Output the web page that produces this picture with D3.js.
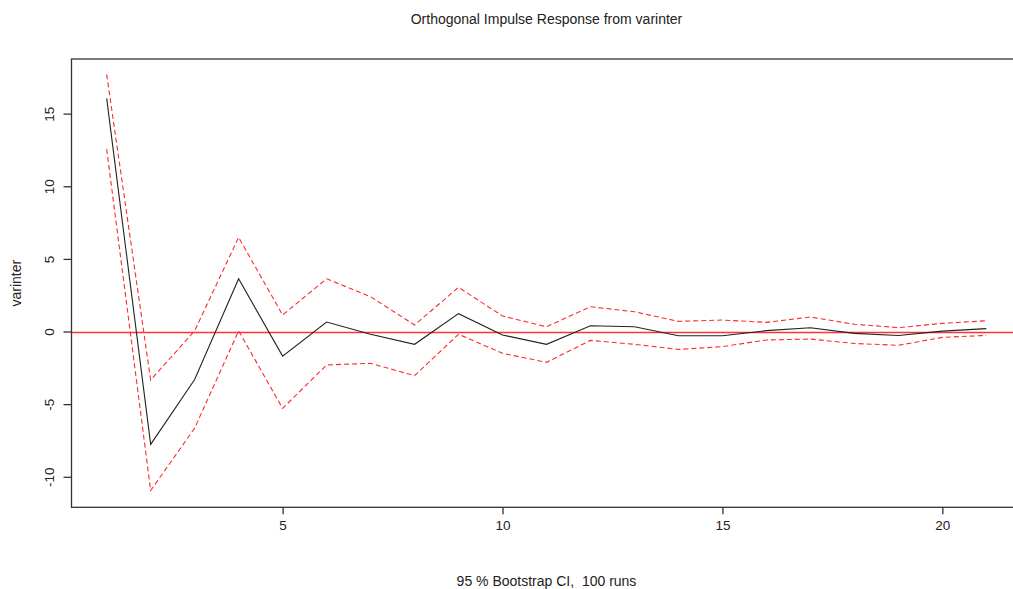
<!DOCTYPE html>
<html>
<head>
<meta charset="utf-8">
<script src="https://cdn.jsdelivr.net/npm/d3@7"></script>
<style>
  body { margin: 0; background: #fff; }
  text { font-family: Arial, "Liberation Sans", sans-serif; fill: #222; white-space: pre; }
</style>
</head>
<body>
<svg id="chart" width="1013" height="589"></svg>
<script>
const WIDTH = 1013;
const HEIGHT = 589;

// horizon steps 1..21
const steps = d3.range(1, 22);
const irf = [16.05, -7.77, -3.3, 3.63, -1.69, 0.65, -0.19, -0.88, 1.23, -0.24,
             -0.88, 0.40, 0.33, -0.29, -0.29, 0.06, 0.26, -0.13, -0.27, 0.03, 0.20];
const upper = [17.7, -3.34, 0.05, 6.48, 1.14, 3.63, 2.4, 0.45, 3.04, 1.07,
               0.33, 1.71, 1.36, 0.70, 0.79, 0.63, 1.00, 0.50, 0.27, 0.56, 0.74];
const lower = [12.56, -10.95, -6.65, 0.05, -5.29, -2.3, -2.19, -3.04, -0.19, -1.5,
               -2.12, -0.61, -0.88, -1.23, -1.04, -0.58, -0.52, -0.82, -0.95, -0.40, -0.27];
const xTicks = [5, 10, 15, 20];
const yTicks = [-10, -5, 0, 5, 10, 15];

const plot = { left: 71.5, right: 1021.5, top: 59, bottom: 507.3 };

let svg = d3.select("#chart");

let x = d3.scaleLinear()
          .domain([0.2, 21.8])
          .range([plot.left, plot.right]);

let y = d3.scaleLinear()
          .domain([-12.1, 18.76])
          .range([plot.bottom, plot.top]);

// box (right side falls outside the window)
svg.append("rect")
   .attr("x", plot.left)
   .attr("y", plot.top)
   .attr("width", plot.right - plot.left)
   .attr("height", plot.bottom - plot.top)
   .attr("fill", "none")
   .attr("stroke", "#333")
   .attr("stroke-width", 1.3);

// axes
let xAxis = svg.append("g")
               .attr("transform", "translate(0," + plot.bottom + ")")
               .call(d3.axisBottom(x).tickValues(xTicks).tickSize(7).tickPadding(6).tickFormat(d => String(d)));
xAxis.select(".domain").remove();
xAxis.selectAll("line").attr("stroke", "#333").attr("stroke-width", 1.3);
xAxis.selectAll("text").attr("font-size", 13.5).attr("fill", "#222");

let yAxis = svg.append("g")
               .attr("transform", "translate(" + plot.left + ",0)")
               .call(d3.axisLeft(y).tickValues(yTicks).tickSize(8).tickFormat(d => String(d)));
yAxis.select(".domain").remove();
yAxis.selectAll("line").attr("stroke", "#333").attr("stroke-width", 1.3);
yAxis.selectAll("text")
     .attr("font-size", 13.5)
     .attr("fill", "#222")
     .attr("text-anchor", "middle")
     .attr("dy", 0)
     .attr("x", 0)
     .attr("transform", "translate(-18,0) rotate(-90)");

// zero line
svg.append("line")
   .attr("x1", plot.left)
   .attr("x2", plot.right)
   .attr("y1", Math.round(y(0)) + 0.5)
   .attr("y2", Math.round(y(0)) + 0.5)
   .attr("stroke", "red")
   .attr("stroke-opacity", 0.8)
   .attr("stroke-width", 1.3);

const line = d3.line()
               .x((d, i) => x(steps[i]))
               .y(d => y(d));

// confidence bands
[upper, lower].forEach(band => {
  svg.append("path")
     .datum(band)
     .attr("d", line)
     .attr("fill", "none")
     .attr("stroke", "#ff2a2a")
     .attr("stroke-width", 1.1)
     .attr("stroke-dasharray", "5,3");
});

// response
svg.append("path")
   .datum(irf)
   .attr("d", line)
   .attr("fill", "none")
   .attr("stroke", "#222")
   .attr("stroke-width", 1.1);

// titles
const cx = (plot.left + plot.right) / 2;
svg.append("text")
   .attr("x", cx)
   .attr("y", 24)
   .attr("text-anchor", "middle")
   .attr("font-size", 14)
   .text("Orthogonal Impulse Response from varinter");

svg.append("text")
   .attr("x", cx)
   .attr("y", 586)
   .attr("text-anchor", "middle")
   .attr("font-size", 14)
   .text("95 % Bootstrap CI,  100 runs");

svg.append("text")
   .attr("transform", "translate(21," + ((plot.top + plot.bottom) / 2) + ") rotate(-90)")
   .attr("text-anchor", "middle")
   .attr("font-size", 14)
   .text("varinter");
</script>
</body>
</html>
